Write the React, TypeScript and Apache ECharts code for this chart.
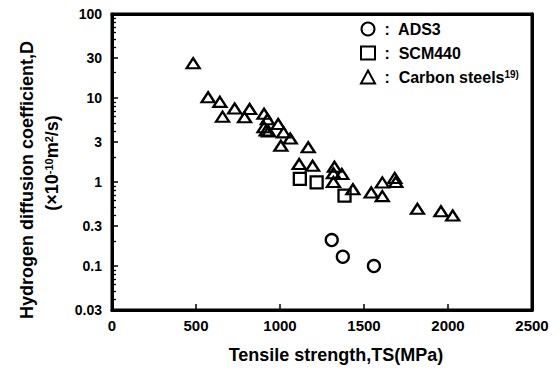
import React, { useEffect, useRef } from "react";
import * as echarts from "echarts";

const xTicks = [0, 500, 1000, 1500, 2000, 2500];
const yMajorTicks = [0.03, 0.1, 0.3, 1, 3, 10, 30, 100];
const yMinorTicks = [
  0.04, 0.05, 0.06, 0.07, 0.08, 0.09,
  0.2, 0.4, 0.5, 0.6, 0.7, 0.8, 0.9,
  2, 4, 5, 6, 7, 8, 9,
  20, 40, 50, 60, 70, 80, 90,
];

const seriesNames = ["ADS3", "SCM440", "Carbon steels"];

const adsTS = [1308, 1374, 1559];
const adsD = [0.204, 0.129, 0.1];

const scmTS = [1118, 1218, 1384];
const scmD = [1.09, 0.99, 0.69];

const carbonTS = [
  483, 572, 642, 658, 730, 789, 819, 905, 925, 905, 918, 932, 989, 1021, 1061,
  1005, 1168, 1114, 1194, 1324, 1318, 1368, 1318, 1434, 1543, 1609, 1609, 1683,
  1689, 1818, 1958, 2028,
];
const carbonD = [
  26, 10.2, 9.0, 6.0, 7.5, 5.9, 7.4, 6.5, 5.6, 4.5, 4.1, 4.0, 4.9, 3.9, 3.3, 2.7,
  2.6, 1.64, 1.56, 1.52, 1.27, 1.25, 1.0, 0.82, 0.75, 0.99, 0.68, 1.12, 1.0, 0.48,
  0.45, 0.4,
];

const FONT = "'Liberation Sans', Arial, Helvetica, sans-serif";

const GRID = { left: 112, right: 27, top: 14, bottom: 61 };
const W = 559;
const H = 371;

const zip = (xs: number[], ys: number[]) => xs.map((x, i) => [x, ys[i]]);

function makeOption(): any {
  const frameLine = () => ({ show: true, onZero: false, lineStyle: { color: "#000", width: 3 } });
  const yMin = yMajorTicks[0];
  const yMax = yMajorTicks[yMajorTicks.length - 1];
  const markerStyle = () => ({
    color: "rgba(255,255,255,0)",
    borderColor: "#000",
    borderWidth: 2.3,
    opacity: 1,
  });
  return {
    animation: false,
    backgroundColor: "#fff",
    grid: { ...GRID, show: false },
    legend: {
      orient: "vertical",
      left: 355,
      top: 16,
      itemWidth: 14,
      itemHeight: 13,
      itemGap: 8,
      selectedMode: false,
      data: seriesNames.slice(),
      formatter: (name: string) =>
        name === "Carbon steels" ? " :  Carbon steels{sup|19)}" : " :  " + name,
      textStyle: {
        fontFamily: FONT,
        fontWeight: "bold",
        fontSize: 16,
        lineHeight: 16,
        color: "#000",
        rich: {
          sup: {
            fontFamily: FONT,
            fontWeight: "bold",
            fontSize: 10,
            lineHeight: 10,
            verticalAlign: "top",
            color: "#000",
          },
        },
      },
    },
    xAxis: [
      {
        type: "value",
        position: "bottom",
        min: xTicks[0],
        max: xTicks[xTicks.length - 1],
        interval: 500,
        splitLine: { show: false },
        axisLine: frameLine(),
        axisTick: { show: true, inside: true, length: 6, lineStyle: { color: "#000", width: 1.5 } },
        axisLabel: {
          color: "#000",
          fontFamily: FONT,
          fontWeight: "bold",
          fontSize: 15,
          margin: 8,
          formatter: (x: number) => String(x),
        },
      },
      {
        type: "value",
        position: "top",
        min: xTicks[0],
        max: xTicks[xTicks.length - 1],
        interval: 500,
        splitLine: { show: false },
        axisLine: frameLine(),
        axisTick: { show: false },
        axisLabel: { show: false },
      },
    ],
    yAxis: [
      {
        type: "log",
        logBase: 10,
        min: yMin,
        max: yMax,
        position: "left",
        splitLine: { show: false },
        axisLine: frameLine(),
        axisTick: {
          show: true,
          inside: true,
          length: 6,
          customValues: yMajorTicks.slice(),
          lineStyle: { color: "#000", width: 1.5 },
        },
        minorTick: { show: false },
        axisLabel: {
          customValues: yMajorTicks.slice(),
          color: "#000",
          fontFamily: FONT,
          fontWeight: "bold",
          fontSize: 14,
          margin: 10,
          formatter: (x: number) => String(parseFloat(Number(x).toPrecision(3))),
        },
      },
      {
        type: "log",
        logBase: 10,
        min: yMin,
        max: yMax,
        position: "left",
        offset: 0,
        splitLine: { show: false },
        axisLine: { show: false, onZero: false },
        axisLabel: { show: false },
        axisTick: {
          show: true,
          inside: true,
          length: 4,
          customValues: yMinorTicks.slice(),
          lineStyle: { color: "#000", width: 1.3 },
        },
      },
      {
        type: "log",
        logBase: 10,
        min: yMin,
        max: yMax,
        position: "right",
        splitLine: { show: false },
        axisLine: frameLine(),
        axisLabel: { show: false },
        axisTick: { show: false },
      },
    ],
    series: [
      {
        name: seriesNames[0],
        type: "scatter",
        symbol: "circle",
        symbolSize: 12,
        itemStyle: markerStyle(),
        data: zip(adsTS, adsD),
      },
      {
        name: seriesNames[1],
        type: "scatter",
        symbol: "rect",
        symbolSize: 12,
        itemStyle: markerStyle(),
        data: zip(scmTS, scmD),
      },
      {
        name: seriesNames[2],
        type: "scatter",
        symbol: "triangle",
        symbolSize: [13, 10],
        itemStyle: markerStyle(),
        data: zip(carbonTS, carbonD),
      },
    ],
    graphic: [
      {
        type: "rect",
        silent: true,
        z: 50,
        shape: {
          x: GRID.left,
          y: GRID.top,
          width: W - GRID.left - GRID.right,
          height: H - GRID.top - GRID.bottom,
        },
        style: { fill: "none", stroke: "#000", lineWidth: 3 },
      },
      {
        type: "text",
        x: 27,
        y: 180,
        rotation: Math.PI / 2,
        style: {
          text: "Hydrogen diffusion coefficient,D",
          fontFamily: FONT,
          fontWeight: "bold",
          fontSize: 18,
          fill: "#000",
          align: "center",
          verticalAlign: "middle",
        },
      },
      {
        type: "text",
        x: 52,
        y: 163,
        rotation: Math.PI / 2,
        style: {
          text: "(×10{sup|-10}m{sup|2}/s)",
          fontFamily: FONT,
          fontWeight: "bold",
          fontSize: 18,
          fill: "#000",
          align: "center",
          verticalAlign: "middle",
          rich: {
            sup: {
              fontFamily: FONT,
              fontWeight: "bold",
              fontSize: 11,
              verticalAlign: "top",
              fill: "#000",
            },
          },
        },
      },
      {
        type: "text",
        x: 336,
        y: 355,
        style: {
          text: "Tensile strength,TS(MPa)",
          fontFamily: FONT,
          fontWeight: "bold",
          fontSize: 18,
          fill: "#000",
          align: "center",
          verticalAlign: "middle",
        },
      },
    ],
  };
}

export default function App() {
  const ref = useRef<HTMLDivElement>(null);

  useEffect(() => {
    document.body.style.margin = "0";
  }, []);

  useEffect(() => {
    if (!ref.current) return;
    const chart = echarts.init(ref.current, undefined, { renderer: "svg" });
    chart.setOption(makeOption());
    return () => chart.dispose();
  }, []);

  return (
    <div style={{ position: "relative", width: W, height: H }}>
      <div ref={ref} style={{ width: W, height: H }} />
    </div>
  );
}
